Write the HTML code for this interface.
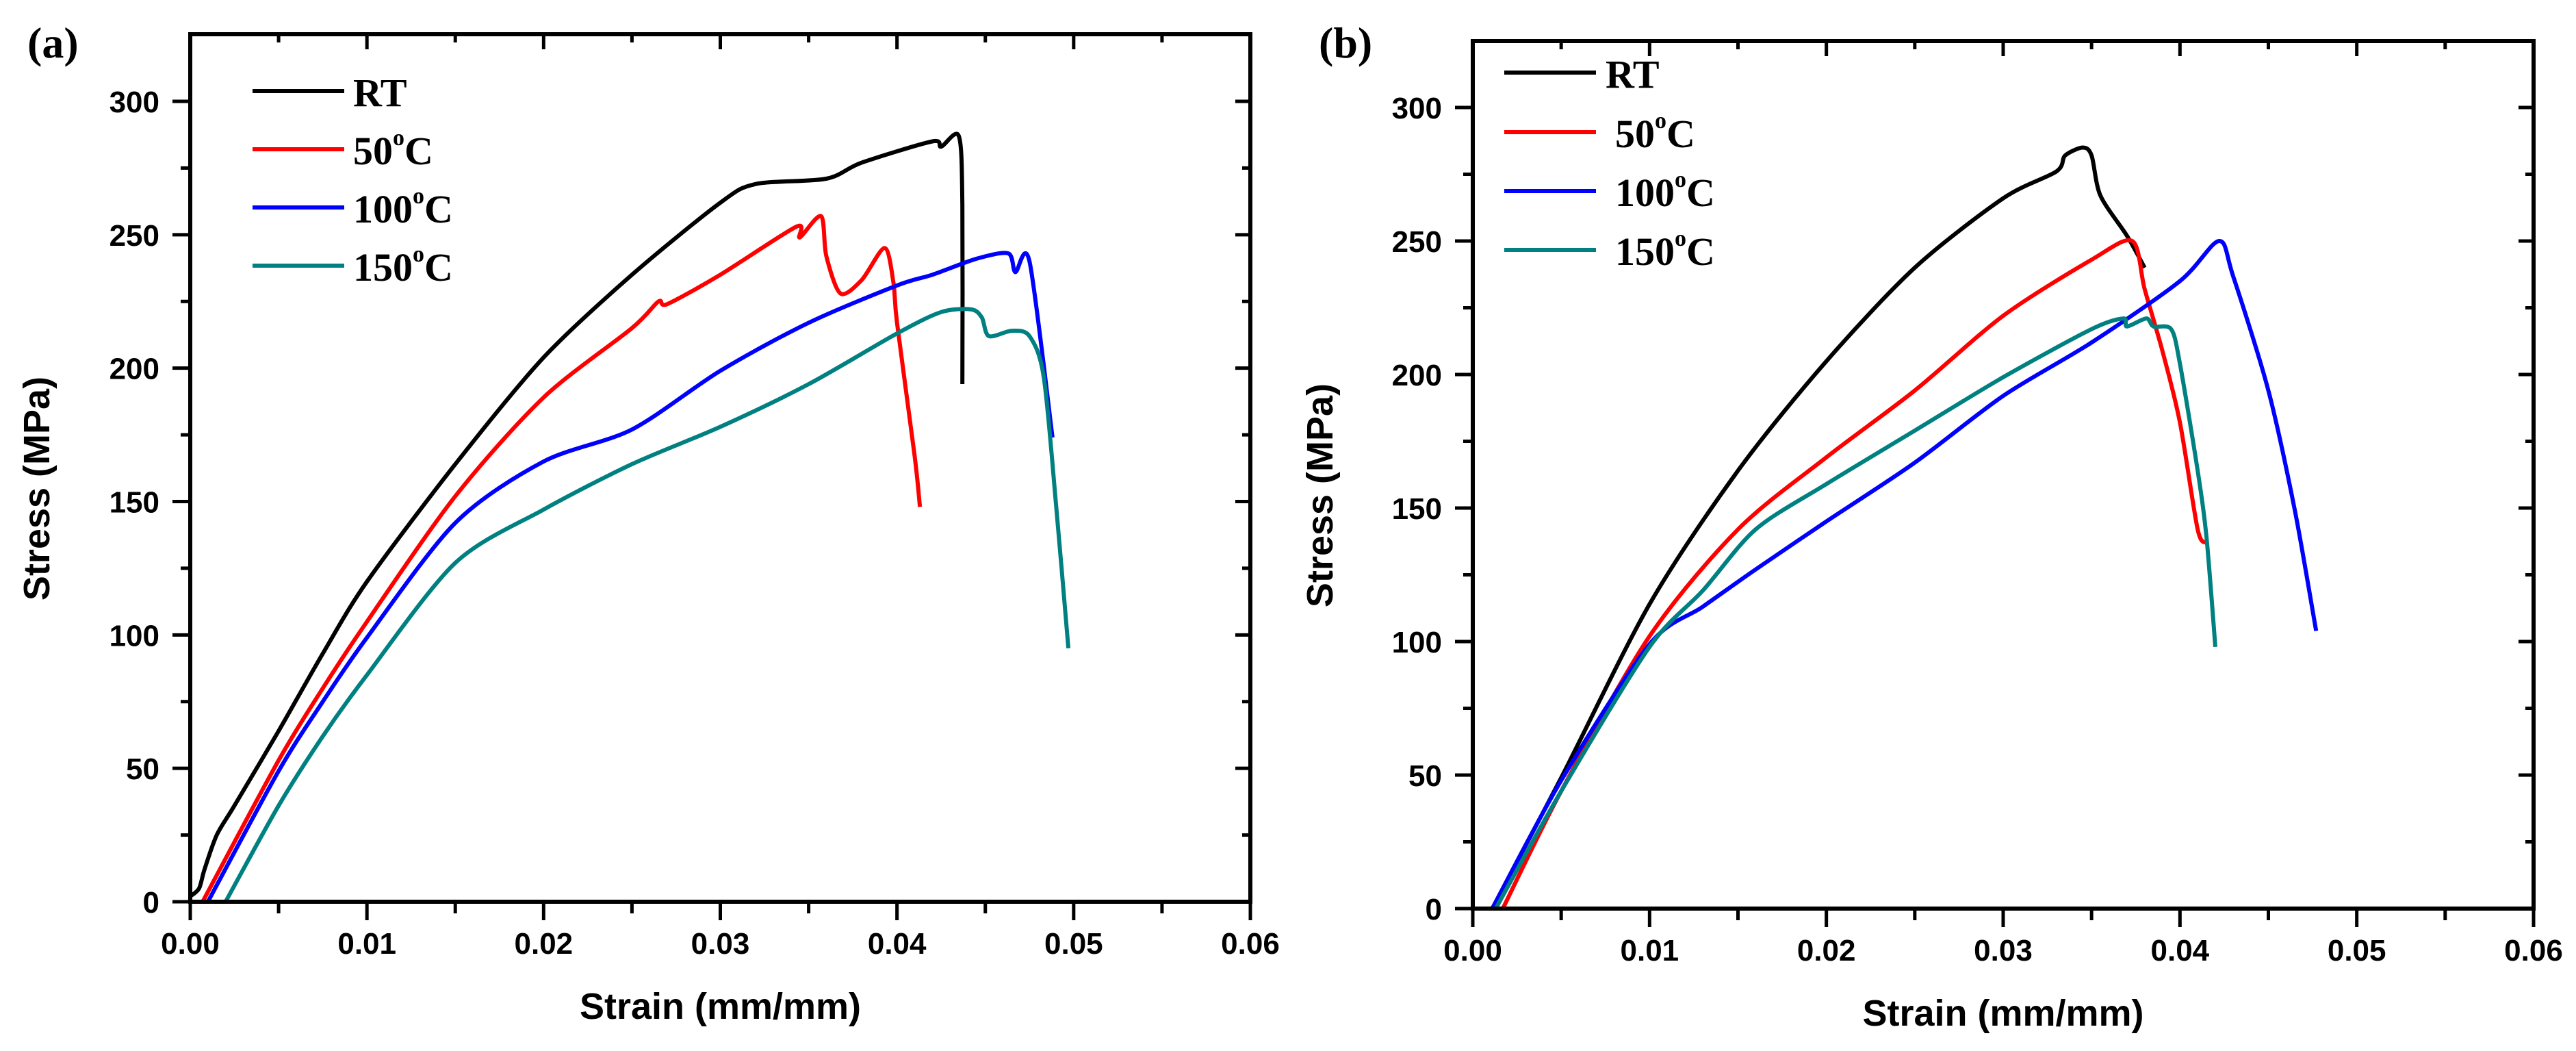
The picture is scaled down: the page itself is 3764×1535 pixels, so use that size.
<!DOCTYPE html>
<html><head><meta charset="utf-8"><style>
html,body{margin:0;padding:0;background:#fff;}
svg{display:block;}
.tk{font-family:"Liberation Sans",Arial,sans-serif;font-weight:bold;font-size:44px;fill:#000;}
.ttl{font-family:"Liberation Sans",Arial,sans-serif;font-weight:bold;font-size:54px;fill:#000;}
.lg{font-family:"Liberation Serif","Times New Roman",serif;font-weight:bold;font-size:58px;fill:#000;}
.pl{font-family:"Liberation Serif","Times New Roman",serif;font-weight:bold;font-size:64px;fill:#000;}
</style></head><body>
<svg id="fig" width="3764" height="1535" viewBox="0 0 3764 1535" xmlns="http://www.w3.org/2000/svg"></svg>
<script>
const xTicks=[0,0.01,0.02,0.03,0.04,0.05,0.06];
const xTickLabels=["0.00","0.01","0.02","0.03","0.04","0.05","0.06"];
const yTicks=[0,50,100,150,200,250,300];
const yTickLabels=["0","50","100","150","200","250","300"];
const seriesNames=["RT","50","100","150"];
const seriesColors=["#000000","#ff0000","#0000ff","#008080"];

// Panel (a)
const aRT_x=[0,0.0005,0.0008,0.0015,0.0025,0.005,0.0075,0.01,0.015,0.02,0.025,0.03,0.032,0.036,0.038,0.042,0.0425,0.0435,0.0437,0.0437];
const aRT_y=[2,5,12,25,36,64,93,120,164,204,235,262,269,271,277,285,283,287,261,194];
const a50_x=[0.0007,0.005,0.0075,0.01,0.015,0.02,0.025,0.0265,0.027,0.03,0.0343,0.0345,0.0357,0.036,0.0368,0.038,0.0393,0.0398,0.040,0.041,0.0413];
const a50_y=[0,53,80,105,152,189,215,225,224,235,253,249,257,242,228,233,245,232,217,167,148];
const a100_x=[0.001,0.005,0.0075,0.01,0.015,0.02,0.025,0.03,0.035,0.04,0.042,0.0445,0.0463,0.0467,0.0475,0.0488];
const a100_y=[0,49,75,99,142,165,177,199,217,231,235,241,243,236,240,174];
const a150_x=[0.002,0.005,0.0075,0.01,0.015,0.02,0.025,0.03,0.035,0.04,0.0425,0.0442,0.0448,0.0452,0.0465,0.0475,0.0483,0.049,0.0497];
const a150_y=[0,36,62,85,127,147,164,178,194,213,221,222,219,212,214,212,197,149,95];

// Panel (b)
const bRT_x=[0.0011,0.005,0.01,0.015,0.02,0.025,0.03,0.033,0.0335,0.0345,0.035,0.0355,0.037,0.038];
const bRT_y=[0,49,114,164,205,240,266,276,282,285,282,267,252,240];
const b50_x=[0.0017,0.005,0.01,0.015,0.02,0.025,0.03,0.035,0.0373,0.038,0.039,0.040,0.041,0.0415];
const b50_y=[0,44,102,142,169,194,222,243,250,232,209,182,142,137];
const b100_x=[0.0011,0.005,0.01,0.013,0.016,0.02,0.025,0.03,0.035,0.04,0.0422,0.043,0.045,0.0465,0.0477];
const b100_y=[0,48,99,113,127,145,167,192,212,235,250,237,194,149,104];
const b150_x=[0.0013,0.005,0.01,0.013,0.016,0.02,0.025,0.03,0.035,0.0368,0.037,0.0381,0.0385,0.0395,0.040,0.041,0.0415,0.042];
const b150_y=[0,44,98,119,142,159,179,199,217,221,218,221,218,217,204,164,139,98];

const NS="http://www.w3.org/2000/svg";
const svg=document.getElementById('fig');
function el(tag,attrs,parent){const e=document.createElementNS(NS,tag);for(const k in attrs)e.setAttribute(k,attrs[k]);(parent||svg).appendChild(e);return e;}
function smoothPath(P){
  let d='M'+P[0][0].toFixed(1)+','+P[0][1].toFixed(1);
  const k=1/7;
  for(let i=0;i<P.length-1;i++){
    const p0=P[Math.max(0,i-1)],p1=P[i],p2=P[i+1],p3=P[Math.min(P.length-1,i+2)];
    const c1x=p1[0]+(p2[0]-p0[0])*k,c1y=p1[1]+(p2[1]-p0[1])*k;
    const c2x=p2[0]-(p3[0]-p1[0])*k,c2y=p2[1]-(p3[1]-p1[1])*k;
    d+=' C'+c1x.toFixed(1)+','+c1y.toFixed(1)+' '+c2x.toFixed(1)+','+c2y.toFixed(1)+' '+p2[0].toFixed(1)+','+p2[1].toFixed(1);
  }
  return d;
}

function panel(P){
  const g=el('g',{});
  
  
  const sx=v=>P.x0+(P.x1-P.x0)*v/0.06;
  const sy=v=>P.y0-(P.y0-P.y300)*v/300;
  const yTop=P.top;
  for(let k=0;k<=12;k++){
    const v=k*0.005;const X=sx(v);const major=k%2===0;
    const t=el('line',{x1:X,y1:P.y0,x2:X,y2:P.y0+(major?27:17),stroke:'#000','stroke-width':5},g);
    
    
    const t2=el('line',{x1:X,y1:yTop,x2:X,y2:yTop+(major?22:12),stroke:'#000','stroke-width':5},g);
    
    
  }
  for(let k=0;k<=13;k++){
    const v=k*25;const Y=sy(v);const major=k%2===0;
    if(Y<yTop+2)continue;
    const t=el('line',{x1:P.x0-(major?26:14),y1:Y,x2:P.x0,y2:Y,stroke:'#000','stroke-width':5},g);
    
    
    const t2=el('line',{x1:P.x1-(major?22:12),y1:Y,x2:P.x1,y2:Y,stroke:'#000','stroke-width':5},g);
    
    
  }
  xTicks.forEach((v,i)=>{
    const t=el('text',{x:sx(v),y:P.y0+76,'text-anchor':'middle',class:'tk'},g);
    t.textContent=xTickLabels[i];
    
    
  });
  yTicks.forEach((v,i)=>{
    const t=el('text',{x:P.x0-45,y:sy(v)+16,'text-anchor':'end',class:'tk'},g);
    t.textContent=yTickLabels[i];
    
    
  });
  P.series.forEach((s,i)=>{
    const pts=s[0].map((x,j)=>[sx(x),sy(s[1][j])]);
    const l=el('path',{d:smoothPath(pts),fill:'none',stroke:seriesColors[i],'stroke-width':6,'stroke-linejoin':'round'},g);
    
    
  });
  const f=el('rect',{x:P.x0,y:yTop,width:P.x1-P.x0,height:P.y0-yTop,fill:'none',stroke:'#000','stroke-width':6},g);
  
  
  const xt=el('text',{x:(P.x0+P.x1)/2,y:P.y0+171,'text-anchor':'middle',class:'ttl'},g);
  xt.textContent='Strain (mm/mm)';
  
  
  const yc=P.ytx, ycy=(P.y0+yTop)/2+30;
  const yt=el('text',{x:yc,y:ycy,'text-anchor':'middle',class:'ttl',transform:'rotate(-90 '+yc+' '+ycy+')'},g);
  yt.textContent='Stress (MPa)';
  
  
  const labels=['RT','50','100','150'];
  P.legY.forEach((Y,i)=>{
    const lg=el('g',{},g);
    
    
    el('line',{x1:P.legX0,y1:Y,x2:P.legX1,y2:Y,stroke:seriesColors[i],'stroke-width':6},lg);
    const t=el('text',{x:P.legTx+(i===0?P.rtOff:0),y:Y+22,class:'lg'},lg);
    if(i===0){t.textContent='RT';}
    else{
      t.textContent=labels[i];
      const sp=el('tspan',{dy:-28,'font-size':'34px'},t);sp.textContent='o';
      const sp2=el('tspan',{dy:28},t);sp2.textContent='C';
    }
  });
  const pl=el('text',{x:P.plx,y:84,class:'pl'},g);
  pl.textContent='('+P.id+')';
  
  
}
panel({id:'a',x0:278,x1:1827,y0:1317,y300:148,top:50,ytx:72,legX0:369,legX1:503,legTx:516,rtOff:0,legY:[133,218,303,388],plx:40,
  series:[[aRT_x,aRT_y],[a50_x,a50_y],[a100_x,a100_y],[a150_x,a150_y]]});
panel({id:'b',x0:2152,x1:3702,y0:1327,y300:157,top:60,ytx:1947,legX0:2198,legX1:2332,legTx:2360,rtOff:-14,legY:[106,193,279,365],plx:1927,
  series:[[bRT_x,bRT_y],[b50_x,b50_y],[b100_x,b100_y],[b150_x,b150_y]]});
</script>
</body></html>
